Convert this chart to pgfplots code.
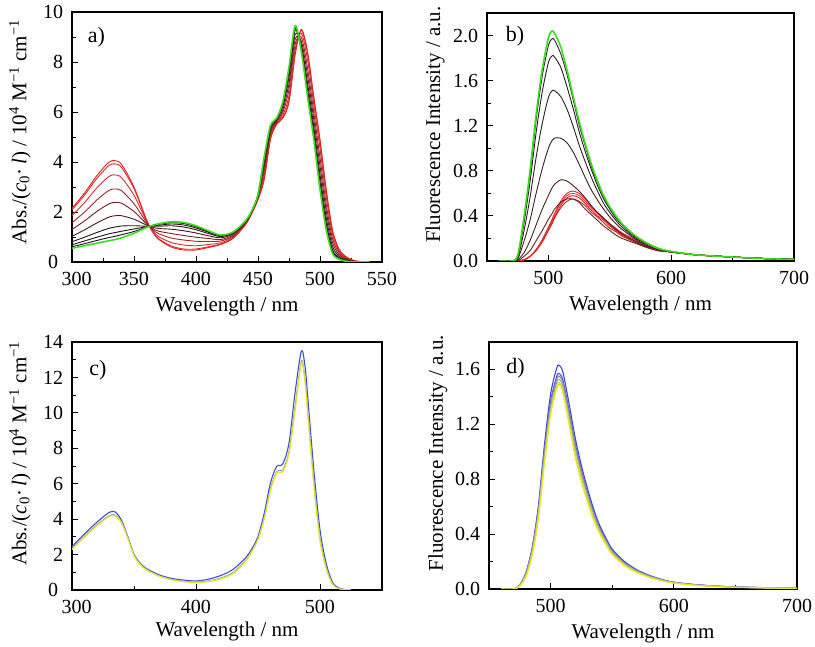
\documentclass[border=0pt]{standalone}
\usepackage{fontspec}
\setmainfont{Liberation Serif}
\usepackage{pgfplots}
\usepackage{pgfplotstable}
\pgfplotsset{compat=1.18}

% panel a: absorption, red state -> green state
% cols: wl, red, then mixtures, green
\pgfplotstableread{
wl   r     m1    m2    m3    m4    m5    m6    m7    m8    g
300 2.15 2.09 1.86 1.57 1.30 1.03 0.81 0.69 0.61 0.55
310 2.75 2.67 2.37 1.99 1.64 1.28 0.99 0.84 0.73 0.65
320 3.45 3.34 2.96 2.48 2.02 1.56 1.18 0.99 0.86 0.75
330 4.00 3.87 3.43 2.87 2.33 1.80 1.35 1.13 0.98 0.85
335 4.05 3.92 3.48 2.92 2.38 1.85 1.40 1.18 1.03 0.90
340 3.90 3.78 3.37 2.85 2.35 1.85 1.44 1.23 1.09 0.97
350 3.00 2.93 2.67 2.33 2.02 1.71 1.45 1.32 1.22 1.15
360 1.70 1.69 1.64 1.59 1.53 1.48 1.43 1.41 1.39 1.38
365 1.20 1.21 1.25 1.30 1.34 1.39 1.43 1.45 1.46 1.47
370 0.90 0.93 1.01 1.13 1.23 1.34 1.43 1.47 1.51 1.53
380 0.60 0.64 0.78 0.96 1.14 1.31 1.45 1.52 1.57 1.61
390 0.48 0.52 0.68 0.88 1.06 1.25 1.40 1.48 1.54 1.58
400 0.48 0.52 0.65 0.83 0.99 1.16 1.29 1.36 1.41 1.45
410 0.58 0.61 0.70 0.82 0.94 1.05 1.14 1.19 1.22 1.25
420 0.70 0.72 0.77 0.84 0.90 0.97 1.02 1.05 1.07 1.08
430 0.95 0.96 1.00 1.04 1.08 1.13 1.16 1.18 1.19 1.20
440 1.50 1.51 1.53 1.55 1.58 1.61 1.63 1.64 1.64 1.65
445 1.95 1.95 1.97 1.99 2.00 2.02 2.03 2.04 2.05 2.05
450 2.50 2.51 2.54 2.57 2.61 2.64 2.67 2.68 2.69 2.70
455 3.30 3.34 3.46 3.62 3.78 3.93 4.06 4.12 4.16 4.20
460 4.90 4.92 5.00 5.10 5.19 5.29 5.36 5.40 5.43 5.45
465 5.50 5.51 5.55 5.59 5.63 5.68 5.71 5.73 5.74 5.75
470 5.75 5.78 5.87 5.98 6.09 6.21 6.30 6.34 6.37 6.40
475 6.40 6.46 6.65 6.90 7.14 7.38 7.58 7.67 7.74 7.80
480 8.30 8.35 8.51 8.71 8.91 9.11 9.27 9.35 9.40 9.45
485 9.30 9.26 9.14 8.98 8.82 8.67 8.54 8.48 8.44 8.40
490 8.40 8.33 8.08 7.75 7.45 7.14 6.89 6.76 6.67 6.60
495 6.60 6.53 6.29 5.99 5.70 5.41 5.17 5.05 4.97 4.90
500 4.90 4.82 4.54 4.18 3.84 3.50 3.22 3.08 2.98 2.90
505 2.90 2.84 2.61 2.32 2.05 1.78 1.56 1.44 1.36 1.30
510 1.30 1.26 1.13 0.96 0.80 0.64 0.50 0.44 0.39 0.35
515 0.55 0.53 0.47 0.40 0.32 0.25 0.19 0.16 0.14 0.12
520 0.25 0.24 0.21 0.17 0.14 0.10 0.07 0.06 0.05 0.04
525 0.10 0.10 0.08 0.07 0.05 0.04 0.02 0.02 0.01 0.01
530 0.03 0.03 0.02 0.02 0.01 0.01 0.00 0.00 0.00 0.00
540 0 0 0 0 0 0 0 0 0 0
}\absA

% panel b: emission, green, dark mixtures, red
\pgfplotstableread{
wl   g     k1    k2    k3    k4    k5    k6    r1    r2    r3    r4
460 0 0 0 0 0 0 0 0 0 0 0
470 0 0 0 0 0 0 0 0 0 0 0
475 0.05 0.05 0.04 0.03 0.02 0.01 0.00 0 0 0 0
480 0.38 0.37 0.33 0.26 0.17 0.07 0.04 0.01 0.01 0.01 0.01
485 0.80 0.77 0.70 0.56 0.36 0.18 0.09 0.04 0.04 0.04 0.04
490 1.30 1.25 1.14 0.92 0.60 0.32 0.18 0.10 0.10 0.10 0.09
495 1.70 1.64 1.50 1.22 0.82 0.46 0.27 0.19 0.18 0.17 0.17
500 1.98 1.91 1.76 1.45 1.00 0.58 0.37 0.30 0.29 0.28 0.27
503 2.04 1.97 1.82 1.51 1.07 0.65 0.42 0.37 0.36 0.35 0.33
505 2.02 1.96 1.81 1.51 1.09 0.68 0.46 0.42 0.41 0.39 0.38
510 1.90 1.84 1.72 1.46 1.09 0.72 0.52 0.53 0.51 0.49 0.47
515 1.70 1.66 1.55 1.35 1.05 0.71 0.55 0.60 0.58 0.56 0.53
520 1.47 1.44 1.36 1.20 0.97 0.67 0.55 0.62 0.60 0.58 0.55
525 1.24 1.21 1.15 1.03 0.86 0.62 0.52 0.60 0.58 0.56 0.53
530 1.04 1.02 0.97 0.88 0.74 0.56 0.46 0.55 0.53 0.51 0.49
535 0.86 0.84 0.81 0.74 0.63 0.49 0.41 0.48 0.47 0.45 0.43
540 0.71 0.70 0.67 0.62 0.54 0.43 0.36 0.43 0.42 0.40 0.39
545 0.58 0.57 0.55 0.51 0.46 0.38 0.31 0.38 0.37 0.36 0.34
550 0.48 0.47 0.46 0.43 0.39 0.33 0.27 0.33 0.32 0.31 0.29
555 0.40 0.40 0.38 0.36 0.33 0.28 0.23 0.29 0.28 0.27 0.26
560 0.33 0.33 0.32 0.30 0.28 0.24 0.20 0.25 0.24 0.23 0.22
570 0.23 0.23 0.22 0.21 0.20 0.18 0.16 0.19 0.18 0.17 0.17
580 0.16 0.16 0.16 0.15 0.14 0.13 0.12 0.13 0.13 0.13 0.12
590 0.11 0.11 0.11 0.11 0.10 0.10 0.09 0.10 0.10 0.10 0.09
600 0.085 0.085 0.085 0.08 0.08 0.08 0.08 0.08 0.08 0.08 0.08
620 0.055 0.055 0.055 0.055 0.055 0.055 0.055 0.055 0.055 0.055 0.055
650 0.035 0.035 0.035 0.035 0.035 0.035 0.035 0.035 0.035 0.035 0.035
680 0.02 0.02 0.02 0.02 0.02 0.02 0.02 0.02 0.02 0.02 0.02
700 0.015 0.015 0.015 0.015 0.015 0.015 0.015 0.015 0.015 0.015 0.015
}\emB

% panel c: absorption, yellow / grey / blue
\pgfplotstableread{
wl   y     gr    b
300 2.28 2.34 2.45
310 2.98 3.04 3.16
320 3.62 3.68 3.82
330 4.15 4.20 4.38
335 4.18 4.24 4.40
340 3.78 3.82 3.92
345 2.93 2.96 3.02
350 1.94 1.96 2.01
355 1.44 1.46 1.51
360 1.14 1.16 1.21
370 0.79 0.81 0.86
380 0.58 0.61 0.66
390 0.47 0.50 0.56
400 0.41 0.44 0.51
410 0.48 0.52 0.61
420 0.63 0.68 0.82
430 0.93 1.00 1.17
440 1.62 1.68 1.82
445 2.16 2.22 2.32
450 2.85 2.92 3.02
455 4.00 4.10 4.32
460 5.60 5.72 6.02
465 6.60 6.68 6.97
470 6.70 6.80 7.12
475 7.70 7.85 8.30
480 10.20 10.45 11.20
485 12.80 12.95 13.50
488 11.70 11.90 12.60
490 10.00 10.30 11.00
495 5.90 6.20 6.80
500 2.80 3.00 3.40
505 1.20 1.30 1.50
510 0.33 0.37 0.45
515 0.08 0.09 0.12
520 0.02 0.02 0.03
525 0 0 0
}\absC

% panel d: emission, blue (d1) to yellow (d6)
\pgfplotstableread{
wl   d1    d2    d3    d4    d5    d6
460 0 0 0 0 0 0
470 0 0 0 0 0 0
475 0.03 0.03 0.03 0.03 0.025 0.02
480 0.12 0.116 0.114 0.11 0.10 0.09
485 0.30 0.289 0.285 0.275 0.26 0.24
490 0.60 0.578 0.571 0.555 0.53 0.50
495 1.05 1.011 0.999 0.975 0.94 0.91
500 1.42 1.367 1.350 1.325 1.29 1.27
505 1.61 1.550 1.531 1.505 1.48 1.46
507 1.63 1.570 1.550 1.528 1.505 1.49
510 1.58 1.522 1.503 1.478 1.45 1.43
515 1.35 1.300 1.284 1.258 1.23 1.20
520 1.10 1.059 1.046 1.025 0.99 0.96
525 0.90 0.867 0.856 0.838 0.81 0.78
530 0.73 0.703 0.694 0.680 0.655 0.63
535 0.58 0.559 0.552 0.540 0.52 0.50
540 0.46 0.443 0.437 0.428 0.415 0.40
545 0.37 0.356 0.352 0.344 0.335 0.32
550 0.29 0.279 0.276 0.270 0.26 0.25
560 0.20 0.193 0.190 0.186 0.178 0.17
570 0.14 0.135 0.133 0.130 0.125 0.12
580 0.10 0.096 0.095 0.093 0.088 0.085
590 0.07 0.067 0.067 0.065 0.062 0.06
600 0.05 0.048 0.048 0.047 0.045 0.043
620 0.03 0.029 0.029 0.028 0.026 0.025
650 0.015 0.014 0.014 0.014 0.013 0.012
700 0.005 0.005 0.005 0.005 0.004 0.004
}\emD

\definecolor{gr}{RGB}{60,220,30}
\definecolor{a0}{RGB}{235,30,30}
\definecolor{a1}{RGB}{225,40,40}
\definecolor{a2}{RGB}{215,45,45}
\definecolor{a3}{RGB}{160,40,40}
\definecolor{a4}{RGB}{115,30,30}
\definecolor{a5}{RGB}{75,25,25}
\definecolor{a6}{RGB}{45,20,20}
\definecolor{a7}{RGB}{30,20,20}
\definecolor{a8}{RGB}{20,20,20}
\definecolor{k1}{RGB}{40,40,40}
\definecolor{k2}{RGB}{35,30,30}
\definecolor{k3}{RGB}{45,30,30}
\definecolor{k4}{RGB}{60,30,30}
\definecolor{k5}{RGB}{80,30,30}
\definecolor{k6}{RGB}{100,35,35}
\definecolor{r1}{RGB}{230,40,40}
\definecolor{r2}{RGB}{240,60,60}
\definecolor{r3}{RGB}{220,30,30}
\definecolor{r4}{RGB}{200,35,35}
\definecolor{cb}{RGB}{60,80,210}
\definecolor{cg}{RGB}{150,160,185}
\definecolor{cy}{RGB}{230,225,40}
\definecolor{d1}{RGB}{60,70,220}
\definecolor{d2}{RGB}{80,90,210}
\definecolor{d3}{RGB}{120,130,190}
\definecolor{d4}{RGB}{160,165,150}
\definecolor{d5}{RGB}{205,205,80}
\definecolor{d6}{RGB}{235,230,30}

\pgfplotsset{
  common/.style={
    scale only axis,
    anchor=south west,
    xtick pos=bottom, ytick pos=left,
    tick align=inside,
    major tick length=6pt, minor tick length=3.5pt,
    tick style={black, line width=0.9pt},
    axis line style={line width=1.3pt},
    minor x tick num=1, minor y tick num=1,
    /pgf/number format/assume math mode=true,
    tick label style={font=\fontsize{20}{22}\selectfont, inner sep=1pt},
    xticklabel style={yshift=-8.7pt},
    yticklabel style={xshift=-7.7pt},
    label style={font=\fontsize{21}{24}\selectfont},
    xlabel style={at={(axis description cs:0.5,0)}, anchor=base, yshift=-50pt},
    ymin=0,
    every axis plot/.append style={smooth, line width=0.9pt, no markers},
  },
  onedec/.style={yticklabel style={/pgf/number format/fixed,
    /pgf/number format/fixed zerofill, /pgf/number format/precision=1}},
}

\begin{document}
\begin{tikzpicture}
\useasboundingbox (0,0) rectangle (815pt,647pt);

% a)
\begin{axis}[common, at={(72pt,385pt)}, width=310pt, height=250pt,
  xmin=300, xmax=550, ymax=10,
  xtick={300,350,...,550}, ytick={0,2,...,10},
  xticklabels={\hspace*{9pt}300,350,400,450,500,550},
  yticklabels={0\hspace*{5pt},2,4,6,8,10},
  xlabel={Wavelength / nm},
  ylabel={Abs./(\textit{c}\textsubscript{0}·\,\textit{l}) / 10\textsuperscript{4} M\textsuperscript{−1} cm\textsuperscript{−1}},
  ylabel style={at={(axis description cs:-0.168,0.52)}, anchor=center}]
  \addplot[a0] table[x=wl, y=r] {\absA};
  \addplot[a1] table[x=wl, y=m1] {\absA};
  \addplot[a2] table[x=wl, y=m2] {\absA};
  \addplot[a3] table[x=wl, y=m3] {\absA};
  \addplot[a4] table[x=wl, y=m4] {\absA};
  \addplot[a5] table[x=wl, y=m5] {\absA};
  \addplot[a6] table[x=wl, y=m6] {\absA};
  \addplot[a7] table[x=wl, y=m7] {\absA};
  \addplot[a8] table[x=wl, y=m8] {\absA};
  \addplot[gr, line width=1.6pt] table[x=wl, y=g] {\absA};
  \node[anchor=west, font=\fontsize{22}{24}\selectfont] at (rel axis cs:0.04,0.9) {a)};
\end{axis}

% b)
\begin{axis}[common, onedec, at={(487pt,386pt)}, width=307pt, height=248pt,
  xmin=450, xmax=700, ymax=2.2,
  xtick={500,600,700}, ytick={0,0.4,0.8,1.2,1.6,2.0},
  xlabel={Wavelength / nm},
  ylabel={Fluorescence Intensity / a.u.},
  ylabel style={at={(axis description cs:-0.169,0.55)}, anchor=center}]
  \addplot[r4] table[x=wl, y=r4] {\emB};
  \addplot[r3] table[x=wl, y=r3] {\emB};
  \addplot[r2] table[x=wl, y=r2] {\emB};
  \addplot[r1] table[x=wl, y=r1] {\emB};
  \addplot[k6] table[x=wl, y=k6] {\emB};
  \addplot[k5] table[x=wl, y=k5] {\emB};
  \addplot[k4] table[x=wl, y=k4] {\emB};
  \addplot[k3] table[x=wl, y=k3] {\emB};
  \addplot[k2] table[x=wl, y=k2] {\emB};
  \addplot[k1] table[x=wl, y=k1] {\emB};
  \addplot[gr, line width=1.6pt] table[x=wl, y=g] {\emB};
  \node[anchor=west, font=\fontsize{22}{24}\selectfont] at (rel axis cs:0.05,0.905) {b)};
\end{axis}

% c)
\begin{axis}[common, at={(72pt,57pt)}, width=310pt, height=248pt,
  xmin=300, xmax=550, ymax=14,
  xtick={300,400,500}, ytick={0,2,...,14},
  xticklabels={\hspace*{9pt}300,400,500},
  yticklabels={0\hspace*{5pt},2,4,6,8,10,12,14},
  xlabel={Wavelength / nm},
  xlabel style={yshift=3pt},
  ylabel={Abs./(\textit{c}\textsubscript{0}·\,\textit{l}) / 10\textsuperscript{4} M\textsuperscript{−1} cm\textsuperscript{−1}},
  ylabel style={at={(axis description cs:-0.168,0.55)}, anchor=center}]
  \addplot[cb, line width=1.1pt] table[x=wl, y=b] {\absC};
  \addplot[cg] table[x=wl, y=gr] {\absC};
  \addplot[cy, line width=1.2pt] table[x=wl, y=y] {\absC};
  \node[anchor=west, font=\fontsize{22}{24}\selectfont] at (rel axis cs:0.045,0.887) {c)};
\end{axis}

% d)
\begin{axis}[common, onedec, at={(489pt,58pt)}, width=308pt, height=247pt,
  xmin=450, xmax=700, ymax=1.8,
  xtick={500,600,700}, ytick={0,0.4,0.8,1.2,1.6},
  xlabel={Wavelength / nm},
  ylabel={Fluorescence Intensity / a.u.},
  ylabel style={at={(axis description cs:-0.166,0.55)}, anchor=center}]
  \addplot[d1, line width=1.1pt] table[x=wl, y=d1] {\emD};
  \addplot[d2, line width=1.1pt] table[x=wl, y=d2] {\emD};
  \addplot[d3, line width=1.1pt] table[x=wl, y=d3] {\emD};
  \addplot[d4, line width=1.1pt] table[x=wl, y=d4] {\emD};
  \addplot[d5, line width=1.1pt] table[x=wl, y=d5] {\emD};
  \addplot[d6, line width=1.2pt] table[x=wl, y=d6] {\emD};
  \node[anchor=west, font=\fontsize{22}{24}\selectfont] at (rel axis cs:0.045,0.895) {d)};
\end{axis}
\end{tikzpicture}
\end{document}
